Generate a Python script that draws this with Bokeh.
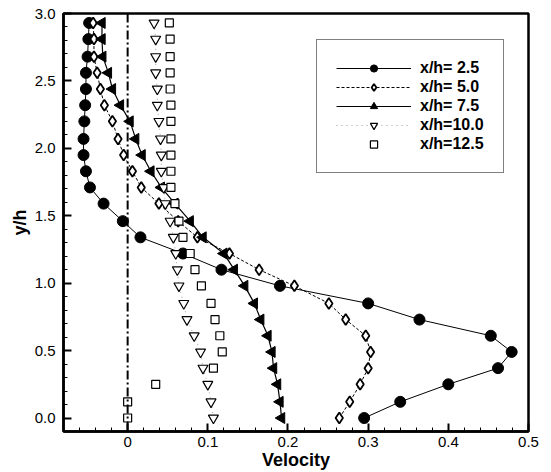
from bokeh.plotting import figure
from bokeh.models import (Range1d, Span, Legend, LegendItem, FixedTicker,
                          CustomJSTickFormatter)
from bokeh.embed import file_html
from bokeh.resources import INLINE

# y/h levels (bottom to top)
y_levels = [0.00, 0.12, 0.25, 0.37, 0.49, 0.61, 0.73, 0.85, 0.98, 1.10, 1.22, 1.34,
            1.46, 1.59, 1.71, 1.83, 1.95, 2.07, 2.20, 2.32, 2.44, 2.56, 2.68, 2.81, 2.93]

u_25 = [0.295, 0.340, 0.400, 0.462, 0.479, 0.453, 0.364, 0.300, 0.190, 0.117, 0.069, 0.016,
        -0.006, -0.030, -0.047, -0.052, -0.055, -0.055, -0.054, -0.053, -0.052, -0.052,
        -0.050, -0.049, -0.048]
u_50 = [0.264, 0.277, 0.290, 0.300, 0.303, 0.297, 0.272, 0.251, 0.208, 0.164, 0.127, 0.087,
        0.063, 0.039, 0.017, 0.006, -0.005, -0.012, -0.019, -0.029, -0.034, -0.038,
        -0.042, -0.042, -0.043]
u_75 = [0.192, 0.190, 0.187, 0.182, 0.180, 0.175, 0.166, 0.158, 0.146, 0.133, 0.120, 0.094,
        0.078, 0.059, 0.042, 0.029, 0.018, 0.010, 0.003, -0.009, -0.019, -0.024,
        -0.031, -0.032, -0.032]
u_100 = [0.107, 0.104, 0.100, 0.094, 0.091, 0.083, 0.074, 0.070, 0.064, 0.062, 0.060, 0.057,
         0.053, 0.047, 0.045, 0.042, 0.042, 0.041, 0.039, 0.037, 0.037, 0.035,
         0.035, 0.035, 0.033]
u_125 = [0.000, 0.000, 0.035, 0.107, 0.118, 0.115, 0.109, 0.104, 0.092, 0.084, 0.078, 0.069,
         0.064, 0.059, 0.054, 0.054, 0.054, 0.054, 0.054, 0.054, 0.053, 0.053,
         0.053, 0.053, 0.052]

labels = ["x/h= 2.5", "x/h= 5.0", "x/h= 7.5", "x/h=10.0", "x/h=12.5"]
x_ticks = [0, 0.1, 0.2, 0.3, 0.4, 0.5]
y_ticks = [0.0, 0.5, 1.0, 1.5, 2.0, 2.5, 3.0]

FONT = "Liberation Sans"

p = figure(width=551, height=472, output_backend="svg", toolbar_location=None,
           x_range=Range1d(-0.08, 0.5), y_range=Range1d(-0.1, 3.0),
           min_border_left=63, min_border_right=23, min_border_top=13, min_border_bottom=40)
p.grid.visible = False
p.background_fill_color = "white"
p.border_fill_color = "white"
p.outline_line_color = "black"
p.outline_line_width = 2.5

# zero line
p.add_layout(Span(location=0, dimension="height", line_color="black",
                  line_width=2, line_dash="9 3 2 3"))

# series
l1 = p.line(u_25, y_levels, line_color="black", line_width=1)
m1 = p.scatter(u_25, y_levels, marker="circle", size=11, fill_color="black", line_color="black")

l2 = p.line(u_50, y_levels, line_color="black", line_width=1, line_dash="3 2")
m2 = p.scatter(u_50, y_levels, marker="diamond", size=11, fill_color="white",
               line_color="black", line_width=1.8)

l3 = p.line(u_75, y_levels, line_color="black", line_width=1.2)
m3 = p.scatter(u_75, y_levels, marker="triangle", angle=1.5708, size=11,
               fill_color="black", line_color="black")

l4 = p.line(u_100, y_levels, line_color="#888888", line_width=0.8, line_dash="1 4")
m4 = p.scatter(u_100, y_levels, marker="inverted_triangle", size=10, fill_color="white",
               line_color="black", line_width=1.2)

m5 = p.scatter(u_125, y_levels, marker="square", size=8, fill_color="white",
               line_color="black", line_width=1.2)

legend = Legend(items=[
    LegendItem(label=labels[0], renderers=[l1, m1]),
    LegendItem(label=labels[1], renderers=[l2, m2]),
    LegendItem(label=labels[2], renderers=[l3, m3]),
    LegendItem(label=labels[3], renderers=[l4, m4]),
    LegendItem(label=labels[4], renderers=[m5]),
], location=(253, 258))
legend.border_line_color = "black"
legend.border_line_width = 1
legend.background_fill_color = "white"
legend.background_fill_alpha = 1
legend.glyph_width = 75
legend.glyph_height = 18
legend.label_height = 18
legend.spacing = 1
legend.padding = 19
legend.margin = 0
legend.label_standoff = 9
legend.label_text_font = FONT
legend.label_text_font_style = "bold"
legend.label_text_font_size = "16px"
legend.label_text_color = "black"
p.add_layout(legend)

# axes
for ax in (p.xaxis[0], p.yaxis[0]):
    ax.axis_line_width = 2.5
    ax.axis_line_color = "black"
    ax.major_tick_in = 8
    ax.major_tick_out = 0
    ax.minor_tick_in = 4
    ax.minor_tick_out = 0
    ax.major_tick_line_width = 2
    ax.minor_tick_line_width = 1
    ax.major_label_text_font = FONT
    ax.major_label_text_font_size = "15px"
    ax.major_label_text_color = "black"
    ax.axis_label_text_font = FONT
    ax.axis_label_text_font_style = "bold"
    ax.axis_label_text_font_size = "18px"
    ax.axis_label_text_color = "black"

p.xaxis.ticker = FixedTicker(ticks=x_ticks,
                             minor_ticks=[-0.08 + 0.02 * i for i in range(30)])
p.xaxis.formatter = CustomJSTickFormatter(
    code="return Math.abs(tick) < 1e-9 ? '0' : tick.toFixed(1);")
p.xaxis.axis_label = "Velocity"
p.xaxis.major_label_standoff = 5
p.xaxis.axis_label_standoff = 0

p.yaxis.ticker = FixedTicker(ticks=y_ticks,
                             minor_ticks=[-0.1 + 0.1 * i for i in range(32)])
p.yaxis.formatter = CustomJSTickFormatter(code="return tick.toFixed(1);")
p.yaxis.axis_label = "y/h"
p.yaxis.major_label_standoff = 8
p.yaxis.axis_label_standoff = 2

open("out.html", "w").write(file_html(p, INLINE))
